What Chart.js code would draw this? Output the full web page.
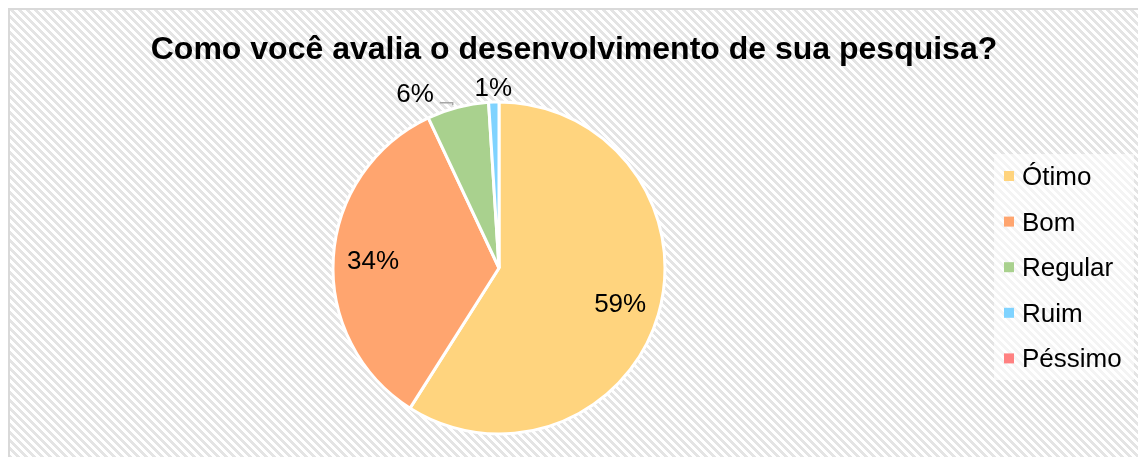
<!DOCTYPE html>
<html>
<head>
<meta charset="utf-8">
<script src="https://cdn.jsdelivr.net/npm/chart.js@4"></script>
<style>
  body { margin: 0; background: #fff; }
  canvas { display: block; }
</style>
</head>
<body>
<canvas id="pieChart" width="1138" height="457"></canvas>
<script>
// =========================
// DONNÉES
// =========================
const chartTitle = "Como você avalia o desenvolvimento de sua pesquisa?";
const categories = ["Ótimo", "Bom", "Regular", "Ruim", "Péssimo"];
const percentages = [59, 34, 6, 1, 0];
const sliceColors = ["#ffd47e", "#ffa56f", "#a9d18e", "#7fd3ff", "#ff8181"];

const FONT = '"Liberation Sans", Arial, sans-serif';

// décalage horizontal des étiquettes extérieures qui se chevauchent
const labelShift = { 2: -39 };

// =========================
// FOND HACHURÉ + CADRE
// =========================
function makeHatch(ctx) {
  const tile = document.createElement("canvas");
  tile.width = 8;
  tile.height = 8;
  const t = tile.getContext("2d");
  t.fillStyle = "#ffffff";
  t.fillRect(0, 0, 8, 8);
  t.fillStyle = "#e4e4e4";
  for (let y = 0; y < 8; y++) {
    for (let x = 0; x < 8; x++) {
      if ((((x - y) % 8) + 8) % 8 < 4) t.fillRect(x, y, 1, 1);
    }
  }
  return ctx.createPattern(tile, "repeat");
}

const frameBackground = {
  id: "frameBackground",
  beforeDraw(chart) {
    const { ctx, width, height } = chart;
    ctx.save();
    ctx.fillStyle = "#ffffff";
    ctx.fillRect(0, 0, width, height);
    ctx.fillStyle = makeHatch(ctx);
    ctx.fillRect(10, 10, width - 10, height - 10);
    ctx.fillStyle = "#d9d9d9";
    ctx.fillRect(8, 8, width - 8, 2);
    ctx.fillRect(8, 8, 2, height - 8);

    ctx.fillStyle = "#000";
    ctx.font = `bold 32px ${FONT}`;
    ctx.textAlign = "center";
    ctx.textBaseline = "alphabetic";
    ctx.fillText(chartTitle, 574, 59);
    ctx.restore();
  },
};

// =========================
// ÉTIQUETTES DES PARTS
// =========================
const sliceLabels = {
  id: "sliceLabels",
  afterDatasetsDraw(chart) {
    const ctx = chart.ctx;
    const meta = chart.getDatasetMeta(0);
    const values = chart.data.datasets[0].data;

    ctx.save();
    ctx.font = `26px ${FONT}`;
    ctx.textAlign = "center";
    ctx.textBaseline = "alphabetic";

    meta.data.forEach((arc, i) => {
      const v = values[i];
      if (!v) return;

      const { x, y, startAngle, endAngle, outerRadius } = arc.getProps(
        ["x", "y", "startAngle", "endAngle", "outerRadius"],
        true
      );
      const mid = (startAngle + endAngle) / 2;
      const inside = v >= 10;
      const r = outerRadius * (inside ? 0.76 : 1.09);
      const lx = x + Math.cos(mid) * r + (labelShift[i] || 0);
      const ly = y + Math.sin(mid) * r;

      ctx.fillStyle = "#000";
      ctx.fillText(v + "%", lx, ly + 9.3);

      if (labelShift[i]) {
        // trait de rappel vers la part
        const half = ctx.measureText(v + "%").width / 2;
        const ax = x + Math.cos(mid) * outerRadius - 5;
        const ay = y + Math.sin(mid) * outerRadius - 2;
        ctx.strokeStyle = "#a6a6a6";
        ctx.lineWidth = 1.5;
        ctx.beginPath();
        ctx.moveTo(lx + half + 6, ly + 10);
        ctx.lineTo(ax, ly + 10);
        ctx.lineTo(ax, ay);
        ctx.stroke();
      }
    });

    ctx.restore();
  },
};

// =========================
// LÉGENDE
// =========================
const sideLegend = {
  id: "sideLegend",
  afterDraw(chart) {
    const ctx = chart.ctx;
    const ds = chart.data.datasets[0];

    ctx.save();
    ctx.fillStyle = "rgba(255,255,255,0.6)";
    ctx.fillRect(994, 154, 140, 226);

    ctx.font = `26px ${FONT}`;
    ctx.textAlign = "left";
    ctx.textBaseline = "alphabetic";

    chart.data.labels.forEach((label, i) => {
      const cy = 176 + i * 45.6;
      ctx.fillStyle = ds.backgroundColor[i];
      ctx.fillRect(1004, cy - 5, 10, 10);
      ctx.fillStyle = "#000";
      ctx.fillText(label, 1022, cy + 9);
    });

    ctx.restore();
  },
};

// =========================
// GRAPHIQUE
// =========================
new Chart(document.getElementById("pieChart"), {
  type: "pie",
  data: {
    labels: categories,
    datasets: [
      {
        data: percentages,
        backgroundColor: sliceColors,
        borderColor: "#ffffff",
        borderWidth: 3,
      },
    ],
  },
  options: {
    responsive: false,
    devicePixelRatio: 1,
    animation: false,
    radius: 166,
    layout: { padding: { left: 0, right: 140, top: 79, bottom: 0 } },
    plugins: {
      legend: { display: false },
      tooltip: { enabled: false },
      title: { display: false },
    },
  },
  plugins: [frameBackground, sliceLabels, sideLegend],
});
</script>
</body>
</html>
